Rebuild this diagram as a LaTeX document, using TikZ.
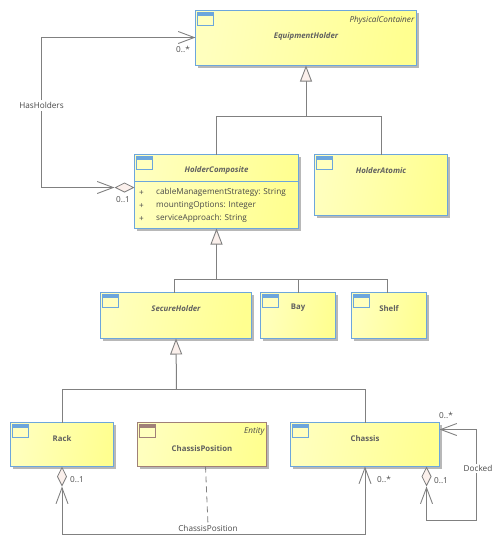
\documentclass[tikz,border=0pt]{standalone}
\usepackage{fontspec}
\setmainfont{Open Sans}
\usetikzlibrary{arrows.meta,shadows,calc}
\definecolor{blueb}{HTML}{6CA6DC}
\definecolor{brownb}{HTML}{A08078}
\definecolor{shadowc}{HTML}{B8B8B8}
\definecolor{linec}{HTML}{808080}
\definecolor{txt}{HTML}{484848}
\definecolor{txtn}{HTML}{606060}
\definecolor{tipfill}{HTML}{FBF0EC}
\definecolor{yleft}{HTML}{FFFFBE}
\definecolor{yright}{HTML}{FFFF90}
\tikzset{
 classbox/.style={draw=blueb,line width=0.9pt,rectangle,inner sep=0pt,outer sep=0pt,anchor=center,
   left color=yleft,right color=yright,shading angle=80,
   general shadow={shadow xshift=2.5pt,shadow yshift=-2.5pt,fill=shadowc}},
 entitybox/.style={classbox,draw=brownb},
 lbl/.style={font=\fontsize{8.2}{10}\selectfont,text=txt,inner sep=0pt,yshift=-0.6pt},
 ilbl/.style={lbl,font=\fontsize{8.2}{10}\selectfont\itshape},
 nlbl/.style={lbl,text=txtn,font=\fontsize{7.8}{10}\selectfont\bfseries},
 inlbl/.style={lbl,text=txtn,font=\fontsize{7.8}{10}\selectfont\bfseries\itshape},
 conn/.style={draw=linec,line width=1pt},
 gen/.style={conn,-{Triangle[open,fill=tipfill,length=16pt,width=12pt,line width=0.9pt]}},
 agg/.style={conn,{Diamond[open,fill=tipfill,length=20pt,width=10pt,line width=0.8pt].Straight Barb[length=16pt,width=12pt,line width=0.9pt]}-{Straight Barb[length=16pt,width=12pt,line width=0.9pt]}},
 bg/.style={fill=white},
 dashconn/.style={draw=linec,line width=0.8pt,dash pattern=on 6pt off 4pt},
}
\newcommand{\classicon}[2][blueb]{%
  \draw[#1,line width=0.8pt,fill=yleft] ($(#2.north west)+(2,2)$) rectangle ($(#2.north west)+(18,14.5)$);
  \fill[#1] ($(#2.north west)+(2,2)$) rectangle ($(#2.north west)+(18,5.5)$);
}
\newcommand{\mkbox}[6][classbox]{% style, name, x0,y0,x1,y1
  \node[#1,minimum width=#5pt-#3pt,minimum height=#6pt-#4pt] (#2) at ({(#3+#5)/2},{(#4+#6)/2}) {};
}
\begin{document}
\begin{tikzpicture}[x=1pt,y=-1pt]
\useasboundingbox (0,0) rectangle (499,544);
% boxes
\mkbox{eh}{195.5}{10.5}{416.5}{65.5}
\mkbox{hc}{134.5}{154.5}{298.5}{228.5}
\mkbox{ha}{314.5}{154.5}{447.5}{215.5}
\mkbox{sh}{100.5}{292.5}{251.5}{338.5}
\mkbox{bay}{260.5}{292.5}{335.5}{338.5}
\mkbox{shelf}{351.5}{292.5}{426.5}{338.5}
\mkbox{rack}{10.5}{422.5}{113.5}{466.5}
\mkbox[entitybox]{cp}{137.5}{422.5}{266.5}{466.5}
\mkbox{ch}{290.5}{422.5}{439.5}{466.5}
\classicon{eh}\classicon{hc}\classicon{ha}\classicon{sh}\classicon{bay}\classicon{shelf}\classicon{rack}\classicon[brownb]{cp}\classicon{ch}
\draw[blueb,line width=0.9pt] (134.5,181.5) -- (298.5,181.5);
% labels
\node[ilbl,anchor=north east] (ehst) at (414.5,15) {PhysicalContainer};
\node[inlbl] (ehn) at (306,35.5) {EquipmentHolder};
\node[inlbl] (hcn) at (216.5,169.5) {HolderComposite};
\node[inlbl] (han) at (381,169.5) {HolderAtomic};
\node[lbl,anchor=west] (a1) at (156,192) {cableManagementStrategy: String};
\node[lbl,anchor=west] (a2) at (156,205) {mountingOptions: Integer};
\node[lbl,anchor=west] (a3) at (156,218) {serviceApproach: String};
\node[lbl] (p1) at (141.5,192) {+};
\node[lbl] (p2) at (141.5,205) {+};
\node[lbl] (p3) at (141.5,218) {+};
\node[inlbl] (shn) at (176,307.5) {SecureHolder};
\node[nlbl] (bayn) at (298,307.5) {Bay};
\node[nlbl] (sheln) at (389,307.5) {Shelf};
\node[nlbl] (rackn) at (62,437.5) {Rack};
\node[nlbl] (cpn) at (202,447.5) {ChassisPosition};
\node[ilbl,anchor=north east] (cpst) at (264.5,427) {Entity};
\node[nlbl] (chn) at (365,437.5) {Chassis};
% generalisations
\coordinate (j1) at (306,116.5);
\coordinate (j2) at (216.5,279.5);
\coordinate (j3) at (176.5,389.5);
\coordinate (shtop) at (387.5,292.5);
\coordinate (sectop) at (174.5,292.5);
\draw[conn] (hc.north) -- (hc.north |- j1) -- (ha.north |- j1) -- (ha.north);
\draw[gen] (j1) -- (eh.south);
\draw[conn] (sectop) -- (sectop |- j2) -- (shtop |- j2) -- (shtop);
\draw[conn] (bay.north) -- (bay.north |- j2);
\draw[gen] (j2) -- (hc.south);
\draw[conn] (rack.north) -- (rack.north |- j3) -- (ch.north |- j3) -- (ch.north);
\draw[gen] (j3) -- (sh.south);
% associations
\coordinate (hh1) at (41.5,187.5);
\coordinate (hh2) at (41.5,37.5);
\coordinate (rk1) at (62,534.5);
\coordinate (d1) at (426.5,520.5);
\coordinate (d2) at (476.5,429.5);
\coordinate (dstart) at (426.5,466.5);
\draw[agg] (hh1 -| hc.west) -- (hh1) -- (hh2) -- (hh2 -| eh.west);
\draw[agg] (rack.south) -- (rk1) -- (rk1 -| ch.south) -- (ch.south);
\draw[agg] (dstart) -- (d1) -- (d1 -| d2) -- (d2) -- (d2 -| ch.east);
% association labels
\node[lbl,bg,inner xsep=1pt,inner ysep=2pt] (hasl) at (41.5,105) {HasHolders};
\node[lbl,bg,inner xsep=1pt,inner ysep=1pt] (dockl) at (478,468) {Docked};
\node[lbl] (cpl) at (208,527.5) {ChassisPosition};
\draw[dashconn] (cp.south) ++(3.5,0) -- (cpl.north);
\node[lbl] (m1) at (183,49) {0..*};
\node[lbl] (m2) at (123,199) {0..1};
\node[lbl] (m3) at (77,479) {0..1};
\node[lbl] (m4) at (384,479) {0..*};
\node[lbl] (m5) at (441,480) {0..1};
\node[lbl] (m6) at (446,415) {0..*};
\end{tikzpicture}
\end{document}
